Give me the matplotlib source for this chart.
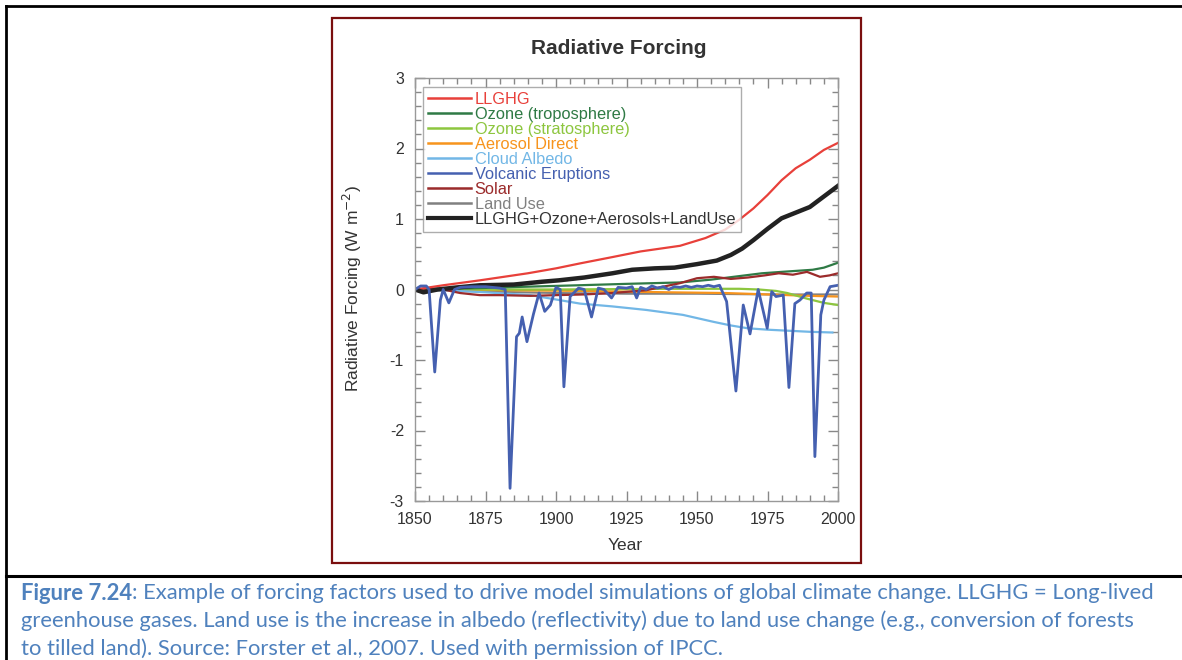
import numpy as np
import matplotlib
matplotlib.use("Agg")
import matplotlib.pyplot as plt
from matplotlib.patches import Rectangle
from matplotlib.lines import Line2D
from matplotlib.ticker import MultipleLocator

plt.rcParams['font.family'] = ['Liberation Sans', 'DejaVu Sans']
plt.rcParams['axes.unicode_minus'] = False

# 数据
ghg_years = [1850, 1860, 1873, 1890, 1900, 1908.5, 1920, 1930, 1944, 1953, 1960, 1965, 1970, 1975, 1980, 1985, 1990, 1995, 2000]
ghg_vals = [0.0, 0.06, 0.13, 0.23, 0.30, 0.37, 0.46, 0.54, 0.62, 0.73, 0.85, 0.99, 1.15, 1.34, 1.55, 1.72, 1.84, 1.98, 2.08]

total_years = [1850, 1853, 1858, 1865, 1873, 1885, 1895, 1901, 1910, 1920, 1927, 1935, 1942, 1950, 1957, 1962, 1966, 1970, 1975, 1980, 1985, 1990, 1995, 2000]
total_vals = [0.0, -0.04, 0.0, 0.03, 0.06, 0.07, 0.11, 0.13, 0.17, 0.23, 0.28, 0.30, 0.31, 0.36, 0.41, 0.49, 0.58, 0.70, 0.86, 1.01, 1.09, 1.17, 1.32, 1.47]

o3trop_years = [1850, 1873, 1890, 1908, 1925, 1944, 1955, 1965, 1973, 1980, 1991, 1995, 2000]
o3trop_vals = [0.0, 0.02, 0.04, 0.06, 0.08, 0.10, 0.14, 0.19, 0.23, 0.25, 0.28, 0.31, 0.38]

o3strat_years = [1850, 1900, 1940, 1965, 1972, 1978, 1982, 1989, 1995, 2000]
o3strat_vals = [0.0, 0.0, 0.01, 0.01, 0.0, -0.02, -0.05, -0.13, -0.19, -0.22]

aer_years = [1850, 1880, 1910, 1940, 1960, 1975, 1990, 2000]
aer_vals = [0.0, -0.01, -0.02, -0.04, -0.05, -0.07, -0.09, -0.10]

cloud_years = [1850, 1860, 1875, 1891, 1908.5, 1920, 1932, 1945, 1956, 1962, 1968, 1975, 1980, 1990, 1998]
cloud_vals = [0.0, -0.01, -0.04, -0.08, -0.20, -0.24, -0.29, -0.36, -0.46, -0.51, -0.55, -0.57, -0.58, -0.60, -0.61]

volc_years = [1850, 1852, 1854, 1855, 1857, 1859, 1860, 1862, 1864, 1866, 1870, 1875, 1880, 1882,
              1883.7, 1886, 1887, 1888, 1889.7, 1892, 1894, 1896, 1898, 1900, 1901.5, 1902.8, 1905,
              1908, 1910, 1912.6, 1915, 1917, 1919.7, 1922, 1925, 1927, 1928.6, 1930, 1932, 1934,
              1936, 1938, 1940, 1942, 1944, 1946, 1948, 1950, 1952, 1954, 1956, 1958, 1960.5, 1963.8,
              1966.4, 1968.8, 1971.7, 1974.9, 1976.5, 1978, 1980.6, 1982.6, 1984.7, 1986.5, 1988.9,
              1990.5, 1991.8, 1993.9, 1995, 1997.2, 2000]
volc_vals = [0.0, 0.05, 0.05, 0.0, -1.17, -0.15, 0.0, -0.19, 0.0, 0.03, 0.04, 0.04, 0.02, 0.0,
             -2.82, -0.67, -0.62, -0.39, -0.74, -0.35, -0.05, -0.31, -0.22, 0.03, 0.0, -1.38, -0.1,
             0.02, 0.0, -0.39, 0.02, 0.0, -0.12, 0.03, 0.02, 0.04, -0.12, 0.03, 0.0, 0.05,
             0.02, 0.04, 0.0, 0.04, 0.03, 0.05, 0.03, 0.05, 0.04, 0.06, 0.04, 0.06, -0.17, -1.44,
             -0.22, -0.63, 0.0, -0.55, -0.03, -0.1, -0.08, -1.39, -0.2, -0.15, -0.05,
             -0.05, -2.37, -0.36, -0.15, 0.04, 0.06]

solar_years = [1850, 1855, 1860, 1866, 1873, 1880, 1891, 1900, 1910, 1920, 1926, 1932, 1938, 1944, 1950, 1956, 1962, 1968, 1974, 1979, 1984, 1989, 1993.6, 1997, 2000]
solar_vals = [0.0, 0.02, 0.0, -0.05, -0.08, -0.08, -0.09, -0.08, -0.07, -0.05, -0.03, -0.01, 0.04, 0.09, 0.16, 0.18, 0.15, 0.17, 0.20, 0.23, 0.21, 0.25, 0.18, 0.20, 0.23]

land_years = [1850, 1875, 1900, 1925, 1950, 1975, 2000]
land_vals = [0.0, -0.03, -0.05, -0.06, -0.06, -0.07, -0.07]

labels = ['LLGHG', 'Ozone (troposphere)', 'Ozone (stratosphere)', 'Aerosol Direct',
          'Cloud Albedo', 'Volcanic Eruptions', 'Solar', 'Land Use',
          'LLGHG+Ozone+Aerosols+LandUse']
colors = ['#E8403A', '#2F7A45', '#8DC63F', '#F7941D', '#72B7E6', '#4560B0', '#9B2B2B', '#808080', '#222222']

W, H = 1182, 660
fig = plt.figure(figsize=(W / 100, H / 100), dpi=100)

# 外框
fig.add_artist(Line2D([6 / W, 6 / W], [0, 1 - 6 / H], color='black', lw=2))
fig.add_artist(Line2D([6 / W, 1], [1 - 6 / H, 1 - 6 / H], color='black', lw=2))
fig.add_artist(Line2D([6 / W, 1], [1 - 576 / H, 1 - 576 / H], color='black', lw=2.2))
fig.add_artist(Rectangle((332 / W, 1 - 563 / H), (861 - 332) / W, (563 - 18) / H,
                         fill=False, edgecolor='#7A0E0E', lw=1.6))

ax = fig.add_axes([415 / W, 1 - 501 / H, 423 / W, 423 / H])

ax.plot(land_years, land_vals, color=colors[7], lw=1.5)
ax.plot(aer_years, aer_vals, color=colors[3], lw=1.6)
ax.plot(o3strat_years, o3strat_vals, color=colors[2], lw=1.6)
ax.plot(cloud_years, cloud_vals, color=colors[4], lw=1.6)
ax.plot(o3trop_years, o3trop_vals, color=colors[1], lw=1.6)
ax.plot(solar_years, solar_vals, color=colors[6], lw=1.6)
ax.plot(ghg_years, ghg_vals, color=colors[0], lw=1.6)
ax.plot(total_years, total_vals, color=colors[8], lw=3.2)
ax.plot(volc_years, volc_vals, color=colors[5], lw=2.0)

ax.set_xlim(1850, 2000)
ax.set_ylim(-3, 3)
ax.xaxis.set_major_locator(MultipleLocator(25))
ax.xaxis.set_minor_locator(MultipleLocator(5))
ax.yaxis.set_major_locator(MultipleLocator(1))
ax.yaxis.set_minor_locator(MultipleLocator(0.2))
ax.tick_params(which='both', direction='in', top=True, right=True, color='#888888',
               labelsize=11.5, labelcolor='#333333')
ax.tick_params(which='major', length=7, width=1, pad=8)
ax.tick_params(which='minor', length=4, width=1)
for s in ax.spines.values():
    s.set_color('#999999')
    s.set_linewidth(1)

handles = [Line2D([], [], color=c, lw=3 if i == 8 else 1.8) for i, c in enumerate(colors)]
leg = ax.legend(handles, labels, loc='upper left', bbox_to_anchor=(8 / 423, 1 - 9 / 423),
                borderaxespad=0, fontsize=11.8, handlelength=2.6, handletextpad=0.25,
                labelspacing=0.0, frameon=True, fancybox=False, borderpad=0.3)
leg.get_frame().set_edgecolor('#999999')
leg.get_frame().set_linewidth(1)
for t, c in zip(leg.get_texts(), colors):
    t.set_color(c if c != '#222222' else '#333333')

fig.text(619 / W, 1 - 48 / H, 'Radiative Forcing', ha='center', va='center',
         fontsize=15, fontweight='bold', color='#333333')
fig.text(352 / W, 1 - 289 / H, 'Radiative Forcing (W m$^{-2}$)', rotation=90,
         ha='center', va='center', fontsize=12.5, color='#333333')
fig.text(625 / W, 1 - 546 / H, 'Year', ha='center', va='center', fontsize=12.5, color='#333333')

# 图注
cap_color = '#4F81BD'
cap_font = ['Lato', 'DejaVu Sans']
cap_size = 15.8
lines = ['Example of forcing factors used to drive model simulations of global climate change. LLGHG = Long-lived',
         'greenhouse gases. Land use is the increase in albedo (reflectivity) due to land use change (e.g., conversion of forests',
         'to tilled land). Source: Forster et al., 2007. Used with permission of IPCC.']
b = fig.text(21 / W, 1 - 593 / H, 'Figure 7.24', fontsize=cap_size, fontweight='bold',
             color=cap_color, family=cap_font, va='center')
r = fig.canvas.get_renderer()
bb = b.get_window_extent(r)
fig.text(bb.x1 / W, 1 - 593 / H, ': ' + lines[0], fontsize=cap_size, color=cap_color,
         family=cap_font, va='center')
fig.text(21 / W, 1 - 621 / H, lines[1], fontsize=cap_size, color=cap_color, family=cap_font, va='center')
fig.text(21 / W, 1 - 649 / H, lines[2], fontsize=cap_size, color=cap_color, family=cap_font, va='center')

fig.savefig('out.png', dpi=100)
